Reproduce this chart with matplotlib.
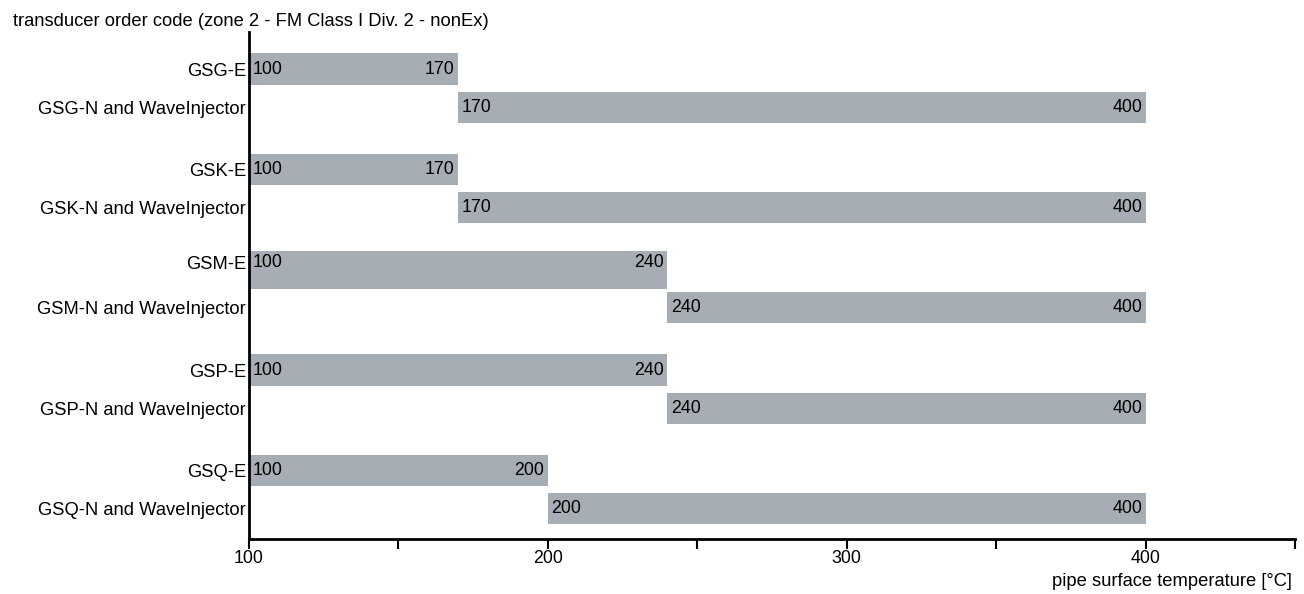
import matplotlib.pyplot as plt

plt.rcParams['font.family'] = ['Liberation Sans', 'DejaVu Sans']

labels = ['GSG-E', 'GSG-N and WaveInjector',
          'GSK-E', 'GSK-N and WaveInjector',
          'GSM-E', 'GSM-N and WaveInjector',
          'GSP-E', 'GSP-N and WaveInjector',
          'GSQ-E', 'GSQ-N and WaveInjector']
starts = [100, 170, 100, 170, 100, 240, 100, 240, 100, 200]
ends = [170, 400, 170, 400, 240, 400, 240, 400, 200, 400]
xticks = [100, 150, 200, 250, 300, 350, 400, 450]
xticklabels = ['100', '', '200', '', '300', '', '400', '']

bar_color = '#a7adb4'
group_step = 2.63
fs = 13.2

fig = plt.figure(figsize=(13.04, 5.94), dpi=100)
ax = fig.add_axes([249 / 1304, 1 - 539 / 594, (1295 - 249) / 1304, (539 - 32) / 594])

ypos = [(i // 2) * group_step + (i % 2) for i in range(len(labels))]
# the GSM-E bar is drawn taller in the original, with its text near the top
heights = [0.82] * len(labels)
text_pos = list(ypos)
heights[4] = 1.0
text_pos[4] = ypos[4] - 0.18
bar_mid = list(ypos)
bar_mid[4] = ypos[4] + 0.01

ax.barh(bar_mid, [e - s for s, e in zip(starts, ends)], left=starts,
        height=heights, color=bar_color)

for y, s, e in zip(text_pos, starts, ends):
    ax.annotate(str(s), (s, y), xytext=(2.5, 0), textcoords='offset points',
                ha='left', va='center', fontsize=fs - 0.4)
    ax.annotate(str(e), (e, y), xytext=(-2.5, 0), textcoords='offset points',
                ha='right', va='center', fontsize=fs - 0.4)

ax.set_yticks(text_pos)
ax.set_yticklabels(labels, fontsize=fs)
ax.tick_params(axis='y', length=0, pad=2)
ax.set_ylim(ypos[-1] + 0.8, -0.97)

ax.set_xlim(100, 450)
ax.set_xticks(xticks)
ax.set_xticklabels(xticklabels, fontsize=fs - 0.4)
ax.tick_params(axis='x', length=7, width=1.5, pad=1)

for side in ['top', 'right']:
    ax.spines[side].set_visible(False)
for side in ['left', 'bottom']:
    ax.spines[side].set_linewidth(2)

fig.text(13 / 1304, 1 - 21 / 594, 'transducer order code (zone 2 - FM Class I Div. 2 - nonEx)',
         ha='left', va='center', fontsize=fs)
fig.text(1292 / 1304, 1 - 581 / 594, 'pipe surface temperature [°C]',
         ha='right', va='center', fontsize=fs)

fig.savefig('out.png', dpi=100)
